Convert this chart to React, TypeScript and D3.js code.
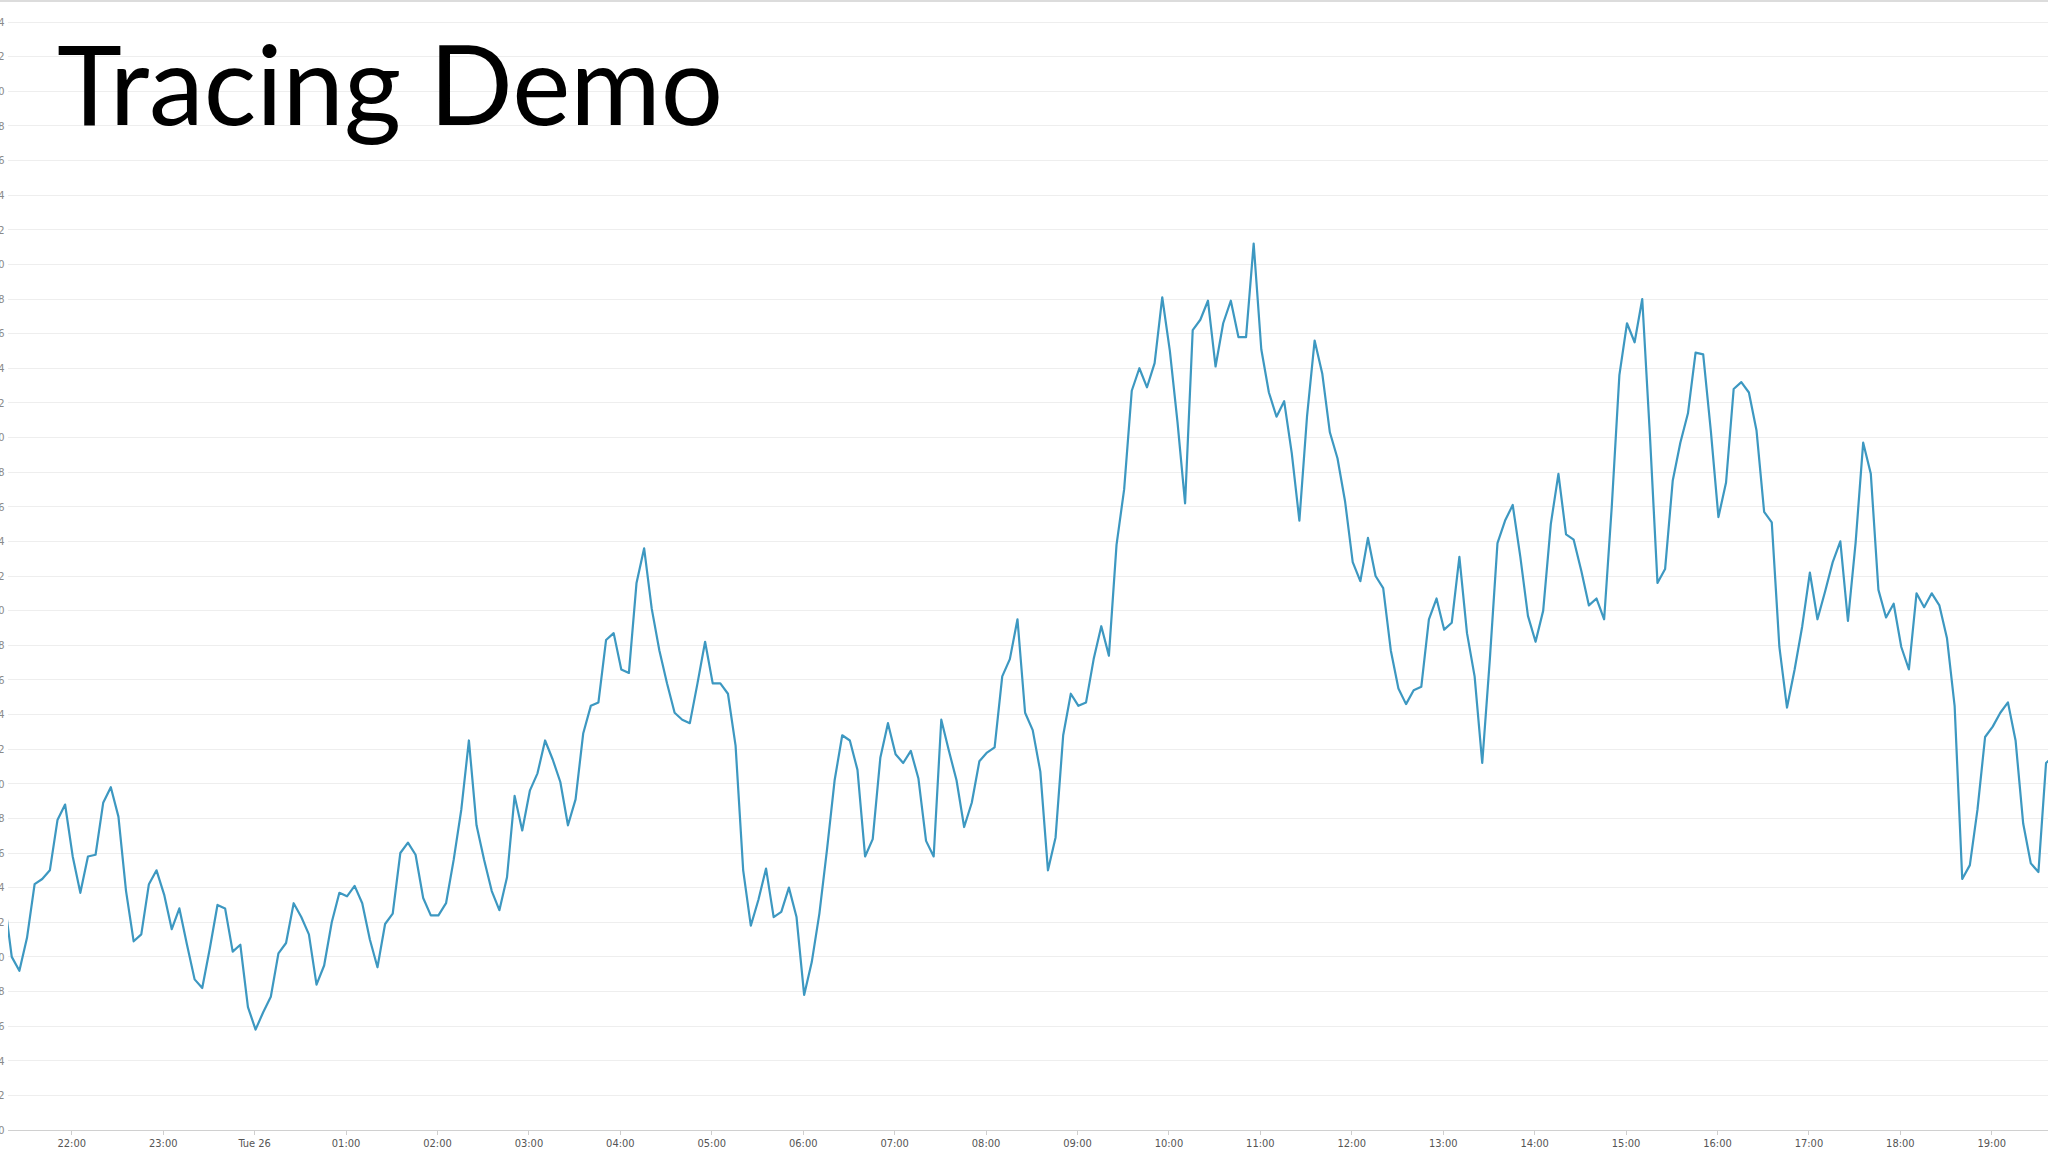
import React from 'react';
import * as d3 from 'd3';

const W = 2048;
const H = 1152;

// Series: one sample every 5 minutes, starting at seriesStart
const seriesStart = new Date(2016, 0, 25, 21, 15, 36);
const stepMinutes = 5;
const values: number[] = [
  13.4, 10.0, 9.2, 11.1, 14.2, 14.5, 15.0, 17.9, 18.8, 15.8, 13.7, 15.8, 15.9, 18.9, 19.8, 18.1, 13.8, 10.9, 11.3, 14.2,
  15.0, 13.6, 11.6, 12.8, 10.7, 8.7, 8.2, 10.5, 13.0, 12.8, 10.3, 10.7, 7.1, 5.8, 6.8, 7.7, 10.2, 10.8, 13.1, 12.3,
  11.3, 8.4, 9.5, 12.0, 13.7, 13.5, 14.1, 13.1, 11.0, 9.4, 11.9, 12.5, 16.0, 16.6, 15.9, 13.4, 12.4, 12.4, 13.1, 15.6,
  18.5, 22.5, 17.6, 15.6, 13.8, 12.7, 14.6, 19.3, 17.3, 19.6, 20.6, 22.5, 21.4, 20.1, 17.6, 19.1, 22.9,
  24.5, 24.7, 28.3, 28.7, 26.6, 26.4, 31.6, 33.6, 30.1, 27.7, 25.8, 24.1, 23.7, 23.5, 25.8, 28.2, 25.8, 25.8, 25.2, 22.2,
  15.0, 11.8, 13.3, 15.1, 12.3, 12.6, 14.0, 12.3, 7.8, 9.7, 12.5, 16.2, 20.2, 22.8, 22.5, 20.8, 15.8, 16.8, 21.5,
  23.5, 21.7, 21.2, 21.9, 20.3, 16.7, 15.8, 23.7, 21.9, 20.2, 17.5, 18.9, 21.3, 21.8, 22.1, 26.2, 27.2, 29.5, 24.1, 23.1,
  20.7, 15.0, 16.9, 22.8, 25.2, 24.5, 24.7, 27.2, 29.1, 27.4, 33.8, 37.0, 42.7, 44.0, 42.9, 44.3, 48.1, 45.0,
  40.9, 36.2, 46.2, 46.8, 47.9, 44.1, 46.6, 47.9, 45.8, 45.8, 51.2, 45.1, 42.6, 41.2, 42.1, 39.1, 35.2, 41.2, 45.6, 43.7,
  40.3, 38.8, 36.3, 32.8, 31.7, 34.2, 32.0, 31.3, 27.7, 25.5, 24.6, 25.4, 25.6, 29.5, 30.7, 28.9, 29.3, 33.1,
  28.7, 26.2, 21.2, 27.2, 33.9, 35.2, 36.1, 33.1, 29.7, 28.2, 30.0, 35.0, 37.9, 34.4, 34.1, 32.3, 30.3, 30.7, 29.5, 36.0,
  43.6, 46.6, 45.5, 48.0, 40.2, 31.6, 32.4, 37.5, 39.7, 41.4, 44.9, 44.8, 40.4, 35.4, 37.4, 42.8, 43.2, 42.6,
  40.4, 35.7, 35.1, 27.9, 24.4, 26.6, 29.1, 32.2, 29.5, 31.1, 32.8, 34.0, 29.4, 33.9, 39.7, 37.9, 31.2, 29.6, 30.4, 27.9,
  26.6, 31.0, 30.2, 31.0, 30.3, 28.4, 24.5, 14.5, 15.3, 18.5, 22.7, 23.3, 24.1, 24.7, 22.5, 17.7, 15.4, 14.9, 21.2, 21.6,
];

const yTicks: number[] = [
  0, 2, 4, 6, 8, 10, 12, 14, 16, 18, 20, 22, 24, 26, 28, 30, 32,
  34, 36, 38, 40, 42, 44, 46, 48, 50, 52, 54, 56, 58, 60, 62, 64,
];

const xTickStart = new Date(2016, 0, 25, 22, 0, 0);
const xTickLabels: string[] = [
  '22:00', '23:00', 'Tue 26', '01:00', '02:00', '03:00', '04:00', '05:00', '06:00', '07:00', '08:00',
  '09:00', '10:00', '11:00', '12:00', '13:00', '14:00', '15:00', '16:00', '17:00', '18:00', '19:00',
];

const title = 'Tracing Demo';

export default function App() {
  const plotLeft = 8;
  const plotRight = W;
  const axisY = 1130;
  const topY = 22;

  const xTicks = xTickLabels.map((_, i) => d3.timeHour.offset(xTickStart, i));
  const x = d3
    .scaleTime()
    .domain([xTicks[0], xTicks[xTicks.length - 1]])
    .range([71.8, 1991.8]);
  const y = d3.scaleLinear().domain([0, 64]).range([axisY, topY]);

  const data = values.map((v, i) => ({ t: d3.timeMinute.offset(seriesStart, i * stepMinutes), v }));
  const line = d3
    .line<{ t: Date; v: number }>()
    .x((d) => x(d.t))
    .y((d) => y(d.v));

  const labelFont = "'DejaVu Sans Condensed', 'DejaVu Sans', sans-serif";

  return (
    <svg
      width={W}
      height={H}
      viewBox={`0 0 ${W} ${H}`}
      style={{ position: 'absolute', left: 0, top: 0, background: '#ffffff' }}
    >
      <defs>
        <clipPath id="plotClip">
          <rect x={plotLeft} y={0} width={plotRight - plotLeft} height={axisY} />
        </clipPath>
      </defs>
      <rect x={0} y={0} width={W} height={H} fill="#ffffff" />
      <line x1={0} x2={W} y1={1} y2={1} stroke="#dcdcdc" strokeWidth={2} />

      {/* gridlines */}
      <g shapeRendering="crispEdges">
        {yTicks.map((t) =>
          t === 0 ? null : (
            <line key={t} x1={plotLeft} x2={plotRight} y1={y(t)} y2={y(t)} stroke="#eeeeee" strokeWidth={1} />
          )
        )}
      </g>

      {/* y labels (mostly cropped off the left edge, as in the source screenshot) */}
      <g fontFamily={labelFont} fontSize={11} fill="#8a8a8a">
        {yTicks.map((t) => (
          <text key={t} x={4.5} y={y(t)} dy="0.35em" textAnchor="end">
            {t}
          </text>
        ))}
      </g>

      {/* title */}
      <text x={57} y={125} fontFamily="Lato, 'Open Sans', sans-serif" fontSize={110} fill="#000000">
        {title}
      </text>

      {/* series */}
      <g clipPath="url(#plotClip)">
        <path d={line(data) || ''} fill="none" stroke="#3d98c1" strokeWidth={2.2} strokeLinejoin="round" />
      </g>

      {/* x axis */}
      <g shapeRendering="crispEdges">
        <line x1={plotLeft} x2={plotRight} y1={axisY} y2={axisY} stroke="#d0d0d0" strokeWidth={1} />
        {xTicks.map((t, i) => (
          <line key={i} x1={x(t)} x2={x(t)} y1={axisY} y2={axisY + 5} stroke="#cfcfcf" strokeWidth={1} />
        ))}
      </g>
      <g fontFamily={labelFont} fontSize={11} fill="#555555" textAnchor="middle">
        {xTicks.map((t, i) => (
          <text key={i} x={x(t)} y={1147}>
            {xTickLabels[i]}
          </text>
        ))}
      </g>
    </svg>
  );
}
